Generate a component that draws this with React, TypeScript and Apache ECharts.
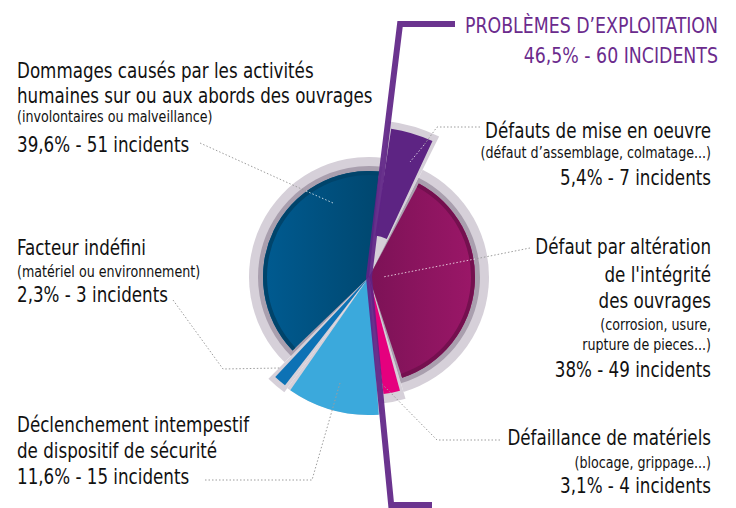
import React, { useEffect, useRef } from 'react';
import * as echarts from 'echarts';

// ---------------- data ----------------
const categories = [
  'Défauts de mise en oeuvre',
  "Défaut par altération de l'intégrité des ouvrages",
  'Défaillance de matériels',
  'Déclenchement intempestif de dispositif de sécurité',
  'Facteur indéfini',
  'Dommages causés par les activités humaines sur ou aux abords des ouvrages',
];
const incidents = [7, 49, 4, 15, 3, 51];
const percents = [5.4, 38, 3.1, 11.6, 2.3, 39.6];
const titleLines = [
  ['Défauts de mise en oeuvre'],
  ['Défaut par altération', "de l'intégrité", 'des ouvrages'],
  ['Défaillance de matériels'],
  ['Déclenchement intempestif', 'de dispositif de sécurité'],
  ['Facteur indéfini'],
  ['Dommages causés par les activités', 'humaines sur ou aux abords des ouvrages'],
];
const noteLines = [
  ['(défaut d’assemblage, colmatage...)'],
  ['(corrosion, usure,', 'rupture de pieces...)'],
  ['(blocage, grippage...)'],
  [],
  ['(matériel ou environnement)'],
  ['(involontaires ou malveillance)'],
];
const groupTitle = 'PROBLÈMES D’EXPLOITATION';
const groupPercent = 46.5;
const groupIncidents = 60;
const groupCount = 3; // first three categories form the group

// ---------------- style / layout ----------------
const CX = 369;
const CY = 277;
const START = 7; // degrees clockwise from 12 o'clock
const PAD = 3;
const FONT = "'DejaVu Sans Condensed', 'Liberation Sans Narrow', sans-serif";
const BIG = 22;
const BIG_SX = 0.845;
const SMALL = 15;
const SMALL_SX = 0.94;
const HEAD = 21;
const HEAD_SX = 0.92;
const colors: any[] = [
  '#5d2483',
  { type: 'linear', x: 0, y: 0, x2: 1, y2: 0, colorStops: [{ offset: 0, color: '#7c1256' }, { offset: 1, color: '#9b1768' }] },
  '#e5007e',
  '#3ba9dc',
  '#0d72b5',
  { type: 'linear', x: 0, y: 0, x2: 1, y2: 0, colorStops: [{ offset: 0, color: '#005b91' }, { offset: 1, color: '#00476f' }] },
];
const radii = [[42, 150], [0, 106], [0, 118], [0, 138], [0, 137], [0, 106]];
const haloR = [157, 120, 127, 138, 143, 120];
const bandR = [0, 111, 0, 0, 0, 111];
const edgeColor = [null, '#74104f', null, null, null, '#00446b'];

const labelLayout = [
  { x: 711, align: 'right', baselines: [137.7, 158, 185] },
  { x: 711, align: 'right', baselines: [254, 282, 308, 330, 350, 376.7] },
  { x: 711, align: 'right', baselines: [445, 468, 493] },
  { x: 17, align: 'left', baselines: [431.7, 458, 484] },
  { x: 17, align: 'left', baselines: [255, 277, 301.7] },
  { x: 17, align: 'left', baselines: [78, 103, 122, 152] },
];
const leaders: { gray: number[][]; white?: number[][] }[] = [
  { gray: [[480, 127], [437, 127], [424, 145]], white: [[424, 145], [410, 162]] },
  { gray: [[530, 248], [475, 259]], white: [[475, 259], [383, 277]] },
  { gray: [[500, 440], [437, 440], [381, 383]] },
  { gray: [[205, 480], [312, 480], [340, 383]] },
  { gray: [[173, 300], [223, 369], [280, 368]] },
  { gray: [[200, 143], [306, 191]], white: [[306, 191], [333, 203]] },
];

const fmtPct = (p: number) => String(p).replace('.', ',') + '%';

function layer(idx: number, radius: number[], color: any, pad: number) {
  return {
    type: 'pie',
    center: [CX, CY],
    radius,
    startAngle: 90 - START,
    clockwise: true,
    padAngle: pad,
    silent: true,
    avoidLabelOverlap: false,
    label: { show: false },
    labelLine: { show: false },
    emphasis: { disabled: true },
    itemStyle: { borderWidth: 0 },
    data: incidents.map((v, j) => ({
      value: v,
      name: categories[j],
      itemStyle: { color: j === idx ? color : 'rgba(0,0,0,0)' },
    })),
  };
}

function textEl(x: number, baseline: number, text: string, size: number, sx: number, align: string, fill: string) {
  return {
    type: 'text',
    x,
    y: baseline - size * 0.35,
    scaleX: sx,
    silent: true,
    z: 70,
    style: {
      text,
      fill,
      font: `${size}px ${FONT}`,
      align,
      verticalAlign: 'middle',
    },
  };
}

function buildOption() {
  const series: any[] = [];
  incidents.forEach((_, i) => series.push(layer(i, [0, haloR[i]], '#d6d0d9', 0)));
  incidents.forEach((_, i) => {
    if (bandR[i]) series.push(layer(i, [0, bandR[i]], '#a99fae', 0));
  });
  incidents.forEach((_, i) => series.push(layer(i, radii[i], colors[i], PAD)));
  incidents.forEach((_, i) => {
    if (edgeColor[i]) series.push(layer(i, [radii[i][1] - 4, radii[i][1]], edgeColor[i], PAD));
  });

  const elements: any[] = [];
  // labels
  incidents.forEach((n, i) => {
    const lay = labelLayout[i];
    const lines: { t: string; s: number; sx: number }[] = [
      ...titleLines[i].map((t) => ({ t, s: BIG, sx: BIG_SX })),
      ...noteLines[i].map((t) => ({ t, s: SMALL, sx: SMALL_SX })),
      { t: `${fmtPct(percents[i])} - ${n} incidents`, s: BIG, sx: BIG_SX },
    ];
    lines.forEach((ln, k) => {
      elements.push(textEl(lay.x, lay.baselines[k], ln.t, ln.s, ln.sx, lay.align, '#111111'));
    });
  });
  // leader lines
  leaders.forEach((ld) => {
    elements.push({
      type: 'polyline',
      silent: true,
      z: 50,
      shape: { points: ld.gray },
      style: { stroke: '#9d9d9d', lineWidth: 1, lineDash: [1.5, 2], fill: null },
    });
    if (ld.white) {
      elements.push({
        type: 'polyline',
        silent: true,
        z: 50,
        shape: { points: ld.white },
        style: { stroke: 'rgba(255,255,255,0.75)', lineWidth: 1, lineDash: [1.5, 2], fill: null },
      });
    }
  });
  // group separator line derived from slice boundaries
  const total = incidents.reduce((a, b) => a + b, 0);
  const groupSum = incidents.slice(0, groupCount).reduce((a, b) => a + b, 0);
  const a1 = (START * Math.PI) / 180;
  const a2 = ((START + (360 * groupSum) / total) * Math.PI) / 180;
  const topY = 24;
  const botY = 505;
  const topX = CX + (CY - topY) * Math.tan(a1);
  const tb = (botY - CY) / -Math.cos(a2);
  const botX = CX + tb * Math.sin(a2);
  elements.push({
    type: 'polyline',
    silent: true,
    z: 60,
    shape: { points: [[455, topY], [topX, topY], [CX, CY], [botX, botY], [432, botY]] },
    style: { stroke: '#5e2386', lineWidth: 6, lineJoin: 'miter', fill: null, opacity: 0.92 },
  });
  // group header
  elements.push(textEl(718, 33.3, groupTitle, HEAD, HEAD_SX, 'right', '#6b2b8d'));
  elements.push(
    textEl(718, 63.3, `${fmtPct(groupPercent)} - ${groupIncidents} INCIDENTS`, HEAD, HEAD_SX, 'right', '#6b2b8d')
  );

  return {
    animation: false,
    backgroundColor: '#ffffff',
    series,
    graphic: { elements },
  };
}

export default function App() {
  const ref = useRef<HTMLDivElement>(null);
  useEffect(() => {
    if (!ref.current) return;
    const chart = echarts.init(ref.current, undefined, { renderer: 'svg' });
    chart.setOption(buildOption() as any);
    return () => chart.dispose();
  }, []);
  return (
    <div
      ref={ref}
      style={{ position: 'fixed', left: 0, top: 0, width: 736, height: 508, background: '#fff' }}
    />
  );
}
